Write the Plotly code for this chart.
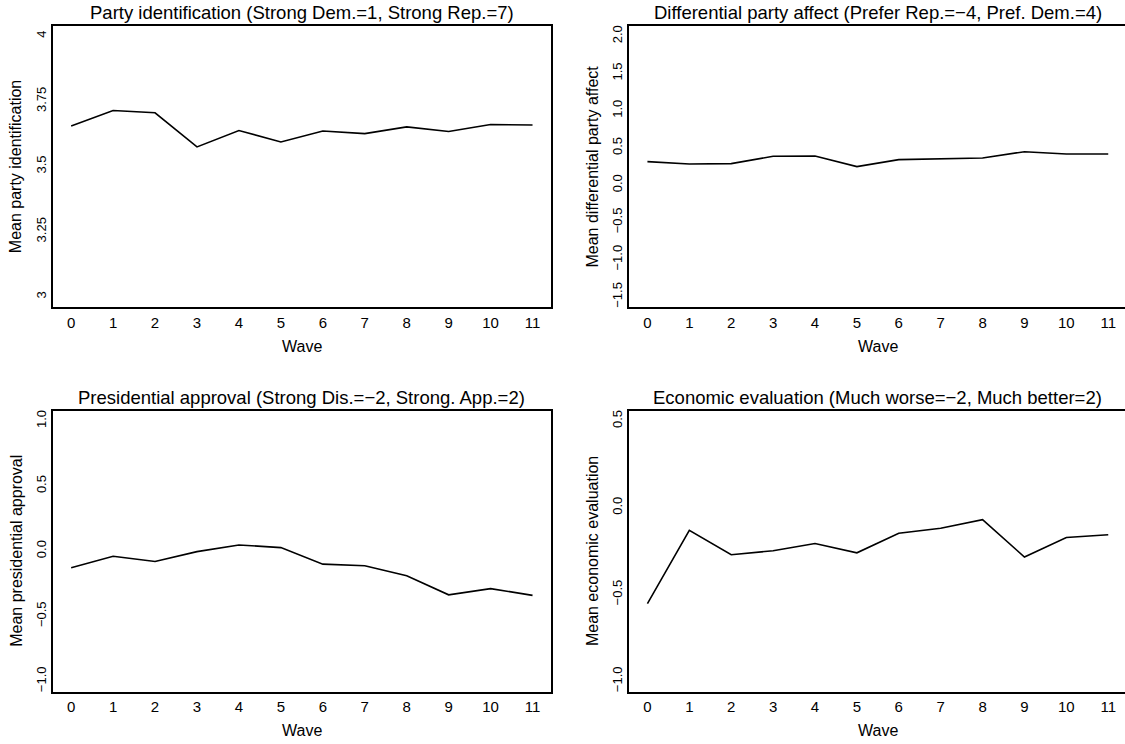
import plotly.graph_objects as go

waves = list(range(12))
party_id = [3.655, 3.715, 3.706, 3.575, 3.638, 3.594, 3.636, 3.626, 3.652, 3.634, 3.661, 3.659]
party_affect = [0.316, 0.284, 0.289, 0.387, 0.391, 0.249, 0.342, 0.356, 0.364, 0.449, 0.418, 0.418]
pres_approval = [-0.128, -0.040, -0.080, -0.004, 0.047, 0.027, -0.100, -0.113, -0.189, -0.336, -0.288, -0.340]
econ_eval = [-0.553, -0.130, -0.271, -0.248, -0.206, -0.260, -0.147, -0.118, -0.069, -0.284, -0.172, -0.156]

titles = [
    "Party identification (Strong Dem.=1, Strong Rep.=7)",
    "Differential party affect (Prefer Rep.=\u22124, Pref. Dem.=4)",
    "Presidential approval (Strong Dis.=\u22122, Strong. App.=2)",
    "Economic evaluation (Much worse=\u22122, Much better=2)",
]
ylabels = [
    "Mean party identification",
    "Mean differential party affect",
    "Mean presidential approval",
    "Mean economic evaluation",
]
yticks = [
    [3, 3.25, 3.5, 3.75, 4],
    [-1.5, -1.0, -0.5, 0.0, 0.5, 1.0, 1.5, 2.0],
    [-1.0, -0.5, 0.0, 0.5, 1.0],
    [-1.0, -0.5, 0.0, 0.5],
]
ytickformats = ["", ".1f", ".1f", ".1f"]
yranges = [[2.96, 4.04], [-1.64, 2.14], [-1.08, 1.08], [-1.06, 0.56]]
series = [party_id, party_affect, pres_approval, econ_eval]

W, H = 1125, 744
FONT = "Liberation Sans, Arial, Helvetica, sans-serif"

# panel frames in pixels: (left, right, top, bottom)
frames = [
    (52.7, 551.0, 25.7, 307.3),
    (629.0, 1125.0, 25.7, 307.3),
    (52.7, 551.0, 410.5, 691.7),
    (629.0, 1125.0, 410.5, 691.7),
]
xranges = [[-0.44, 11.44], [-0.44, 11.40], [-0.44, 11.44], [-0.44, 11.40]]

fig = go.Figure()
layout = dict(
    width=W, height=H,
    margin=dict(l=0, r=0, t=0, b=0),
    paper_bgcolor="white", plot_bgcolor="white",
    showlegend=False,
    font=dict(family=FONT, color="black"),
)
annotations = []
for i in range(4):
    l, r, t, b = frames[i]
    xa = "xaxis" if i == 0 else f"xaxis{i+1}"
    ya = "yaxis" if i == 0 else f"yaxis{i+1}"
    xref = "x" if i == 0 else f"x{i+1}"
    yref = "y" if i == 0 else f"y{i+1}"
    right_clipped = i in (1, 3)
    layout[xa] = dict(
        domain=[l / W, r / W], range=xranges[i], anchor=yref,
        tickvals=waves, ticks="", showgrid=False, zeroline=False,
        showline=True, linecolor="black", linewidth=1.5, mirror=True,
        tickfont=dict(size=15, family=FONT, color="black"),
        ticklabelstandoff=1,
        fixedrange=True,
    )
    layout[ya] = dict(
        domain=[(H - b) / H, (H - t) / H], range=yranges[i], anchor=xref,
        tickvals=yticks[i], tickformat=ytickformats[i], ticks="",
        tickangle=-90, showgrid=False, zeroline=False,
        showline=True, linecolor="black", linewidth=1.5,
        mirror=(not right_clipped),
        tickfont=dict(size=13, family=FONT, color="black"),
        fixedrange=True,
    )
    fig.add_trace(go.Scatter(
        x=waves, y=series[i], mode="lines",
        line=dict(color="black", width=1.6),
        xaxis=xref, yaxis=yref, hoverinfo="skip",
    ))
    cx = (l + (r + 1.4 if right_clipped else r)) / 2
    annotations.append(dict(
        text=titles[i], x=cx / W, y=1 - (t - 13.5) / H,
        xref="paper", yref="paper", showarrow=False,
        xanchor="center", yanchor="middle",
        font=dict(size=18.5, family=FONT, color="black"),
    ))
    annotations.append(dict(
        text="Wave", x=cx / W,
        y=1 - (b + 39) / H,
        xref="paper", yref="paper", showarrow=False,
        xanchor="center", yanchor="middle",
        font=dict(size=16, family=FONT, color="black"),
    ))
    annotations.append(dict(
        text=ylabels[i], x=(l - 37) / W, y=1 - ((t + b) / 2) / H,
        xref="paper", yref="paper", showarrow=False, textangle=-90,
        xanchor="center", yanchor="middle",
        font=dict(size=16, family=FONT, color="black"),
    ))
layout["annotations"] = annotations
fig.update_layout(**layout)
fig.write_html("out.html")
